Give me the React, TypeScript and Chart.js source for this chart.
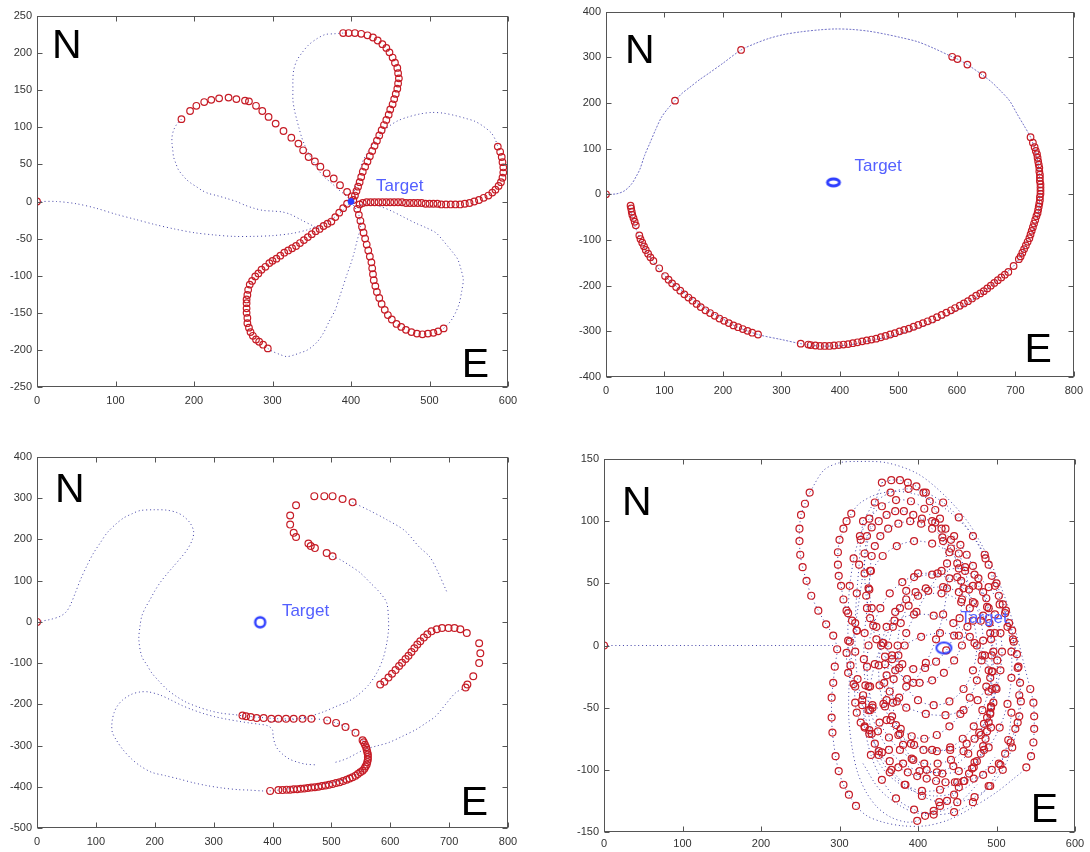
import React, { useEffect, useRef } from "react";
import { Chart, registerables } from "chart.js";

Chart.register(...registerables);

type Pt = [number, number];

const FONT = "'Liberation Sans', Arial, Helvetica, sans-serif";
const RED = "rgb(198,28,38)";
const BLUE_PATH = "rgba(34,34,150,0.85)";
const BLUE_SOFT = "rgba(80,80,185,0.8)";
const TARGET_BLUE = "rgb(46,62,255)";
const LABEL_BLUE = "rgb(84,96,255)";

/* ================= Panel 1 : rose / flower ================= */
const roseX = [0, 600, 100];
const roseY = [-250, 250, 50];
const roseTarget: Pt = [400, 0];

const roseApproach: Pt[] = [[0,0],[25,0],[50,-3],[75,-9],[100,-17],[125,-24],[150,-31],[175,-37],[200,-42],[225,-45],[250,-47],[275,-47],[300,-46],[325,-43],[345,-38],[362,-31],[378,-22],[392,-10],[400,0]];
const roseTopLeftSide: Pt[] = [[390,227],[378,226],[367,225],[356,219],[346,211],[338,201],[331,190],[327,177],[326,164],[326,150],[326,137],[328,123],[331,110],[334,98],[337,87],[341,76],[346,65],[352,54],[358,43],[366,33],[375,25],[383,17],[390,11],[396,5],[400,0]];
const roseLeftReturn: Pt[] = [[184,111],[178,104],[174,96],[172,87],[172,78],[173,69],[174,60],[177,51],[180,43],[185,36],[191,29],[197,24],[203,20],[210,15],[218,11],[229,8],[242,4],[254,0],[265,-5],[276,-9],[288,-12],[301,-13],[312,-14],[322,-17],[337,-25],[354,-34],[365,-38]];
const roseUpperRight: Pt[] = [[400,0],[404,13],[407,25],[411,40],[414,52],[421,66],[428,78],[438,90],[448,101],[460,109],[473,114],[488,118],[503,120],[518,119],[532,116],[546,112],[558,108],[569,101],[579,92],[584,83],[587,74]];
const roseLowerRightReturn: Pt[] = [[518,-171],[524,-165],[529,-158],[534,-148],[538,-137],[541,-121],[543,-105],[540,-91],[536,-78],[530,-69],[523,-60],[516,-51],[508,-42],[495,-35],[482,-29],[467,-21],[452,-13],[438,-7],[425,-4],[411,-4]];
const roseLowerLeftReturn: Pt[] = [[294,-198],[300,-202],[309,-206],[318,-209],[327,-207],[335,-204],[343,-201],[350,-196],[358,-188],[365,-177],[372,-162],[380,-146],[385,-130],[390,-114],[395,-98],[400,-83],[404,-69],[407,-56],[410,-44],[412,-33],[410,-18],[405,-8],[400,0]];

const roseStart: Pt[] = [[0,0]];
const roseTopPetal: Pt[] = [[403,2],[405,8],[407,14],[409,20],[411,26],[413,33],[415,40],[418,47],[421,54],[424,61],[427,68],[430,75],[433,82],[436,89],[439,96],[442,103],[445,110],[448,117],[450,124],[453,131],[455,138],[457,145],[459,152],[460,159],[461,166],[460,173],[459,180],[456,187],[453,194],[449,201],[445,207],[440,212],[434,217],[428,221],[421,224],[413,226],[405,227],[397,227],[390,227]];
const roseLeftPetal: Pt[] = [[401,7],[395,13],[386,22],[378,31],[369,38],[361,47],[354,54],[346,60],[339,69],[333,78],[324,86],[314,95],[304,105],[295,114],[287,122],[279,129],[270,135],[265,136],[254,138],[244,140],[232,139],[222,137],[213,134],[203,129],[195,122],[184,111]];
const roseRightLobe: Pt[] = [[587,74],[590,67],[592,60],[593,53],[594,46],[594,39],[593,32],[591,26],[588,21],[584,16],[580,12],[575,8],[569,5],[563,2],[557,0],[551,-2],[545,-3],[539,-4],[533,-4],[527,-4],[521,-4],[515,-4],[510,-3],[505,-3],[500,-3],[495,-3],[490,-2],[485,-2],[480,-2],[475,-2],[470,-2],[465,-1],[460,-1],[455,-1],[450,-1],[445,-1],[440,-1],[435,-1],[430,-1],[425,-1],[420,-1],[415,-2],[411,-4]];
const roseLowerRightPetal: Pt[] = [[408,-10],[410,-18],[412,-26],[414,-34],[416,-42],[418,-50],[420,-58],[422,-66],[424,-74],[426,-82],[427,-90],[428,-98],[429,-106],[431,-114],[433,-122],[436,-130],[439,-138],[443,-146],[447,-153],[452,-159],[458,-165],[464,-169],[470,-173],[477,-176],[484,-178],[491,-179],[498,-178],[505,-177],[511,-175],[518,-171]];
const roseLowerLeftPetal: Pt[] = [[395,-3],[390,-9],[385,-15],[380,-21],[375,-27],[370,-30],[365,-33],[360,-37],[355,-40],[350,-44],[345,-48],[340,-52],[335,-56],[330,-60],[325,-63],[320,-66],[315,-69],[310,-73],[305,-77],[300,-80],[296,-83],[291,-88],[286,-92],[282,-97],[278,-101],[274,-107],[271,-112],[269,-119],[268,-126],[267,-132],[267,-137],[267,-144],[267,-150],[268,-157],[268,-164],[270,-170],[272,-176],[275,-181],[279,-186],[283,-189],[288,-193],[294,-198]];

/* ================= Panel 2 : big orbit ================= */
const orbitX = [0, 800, 100];
const orbitY = [-400, 400, 100];
const orbitTarget: Pt = [389, 26];

const orbitPath: Pt[] = [[0,0],[18,1],[32,8],[44,23],[52,40],[58,55],[66,85],[75,112],[85,142],[95,169],[106,188],[118,205],[130,221],[143,234],[160,251],[177,266],[200,287],[231,316],[255,330],[278,341],[305,350],[335,356],[365,360],[392,362],[420,361],[450,357],[476,351],[505,343],[533,334],[560,320],[592,301],[601,296],[618,284],[644,261],[660,245],[675,226],[690,205],[703,176],[715,150],[726,125],[733,100],[738,75],[741,45],[742,20],[742,0],[740,-32],[736,-60],[728,-85],[720,-104],[709,-136],[697,-157],[675,-182],[646,-214],[618,-239],[590,-261],[561,-279],[533,-293],[505,-304],[476,-314],[448,-321],[420,-329],[392,-332],[363,-332],[333,-327],[300,-318],[260,-307],[222,-289],[194,-268],[165,-246],[137,-218],[109,-189],[89,-161],[69,-125],[58,-96],[49,-68],[44,-46],[41,-25]];

const orbitSparse: Pt[] = [[0,0],[118,205],[231,316],[592,301],[601,296],[618,284],[644,261],[697,-157],[333,-327],[260,-307]];
const orbitRight: Pt[] = [[726,125],[730,113],[733,103],[735,95],[737,88],[738,80],[739,72],[740,65],[741,58],[741,50],[742,43],[742,36],[742,29],[743,22],[743,15],[743,8],[743,1],[742,-6],[742,-13],[741,-20],[740,-27],[739,-34],[738,-41],[736,-48],[734,-56],[732,-64],[730,-72],[728,-80],[726,-88],[724,-96],[721,-104],[718,-112],[715,-120],[712,-128],[709,-136],[706,-142]];
const orbitBottom: Pt[] = [[688,-170],[682,-176],[676,-182],[670,-188],[664,-194],[658,-200],[652,-206],[646,-212],[640,-217],[633,-222],[626,-228],[619,-234],[612,-239],[605,-244],[597,-249],[590,-254],[582,-259],[574,-264],[566,-269],[558,-274],[550,-278],[542,-282],[534,-286],[526,-290],[518,-294],[510,-297],[502,-300],[494,-304],[486,-307],[478,-310],[470,-313],[462,-316],[454,-318],[446,-320],[438,-322],[430,-324],[422,-326],[414,-328],[406,-329],[398,-330],[390,-331],[382,-332],[374,-332],[366,-332],[358,-331],[350,-330],[346,-329]];
const orbitLeft: Pt[] = [[250,-303],[242,-299],[234,-295],[226,-291],[218,-287],[210,-282],[202,-277],[194,-272],[186,-266],[178,-260],[170,-254],[162,-247],[155,-240],[148,-233],[141,-226],[134,-219],[127,-211],[120,-203],[113,-195],[107,-187],[101,-179],[91,-162],[81,-146],[76,-138],[72,-130],[68,-122],[65,-114],[62,-106],[59,-98],[57,-90],[51,-68],[49,-60],[47,-52],[45,-45],[44,-38],[43,-31],[42,-25]];

/* ================= Panel 3 : coil ================= */
const coilX = [0, 800, 100];
const coilY = [-500, 400, 100];
const coilTarget: Pt = [379, -1];

const coilStartPath: Pt[] = [[0,0],[23,6],[40,14],[50,25],[57,42],[65,70],[74,103],[85,137],[96,167],[108,193],[119,216],[133,236],[147,252],[161,262],[175,270],[198,272],[221,271],[238,265],[249,256],[260,240],[266,220],[264,200],[255,175],[244,155],[232,135],[220,115],[209,95],[200,75],[192,54],[184,34],[178,14],[175,-10],[173,-43],[178,-84],[187,-105],[195,-124],[208,-145],[221,-164],[237,-181],[255,-196],[275,-207],[295,-216],[315,-222],[335,-225],[350,-228]];
const coilLowerLoop: Pt[] = [[350,-228],[410,-235],[466,-235],[493,-239],[524,-255],[553,-287],[563,-317],[560,-353],[543,-369],[516,-385],[483,-394],[449,-401],[416,-407],[395,-410],[382,-410],[360,-408],[342,-407],[315,-403],[288,-397],[265,-390],[241,-381],[218,-373],[195,-365],[176,-350],[161,-333],[146,-310],[134,-285],[128,-268],[127,-253],[128,-237],[131,-220],[136,-205],[145,-190],[160,-176],[175,-170],[190,-170],[210,-178],[228,-190],[245,-202],[262,-212],[282,-222],[302,-230],[322,-236],[342,-241],[360,-245],[376,-248],[392,-252],[400,-262],[401,-277],[404,-295],[409,-309],[418,-322],[429,-333],[442,-340],[456,-345],[476,-347]];
const coilRightArc: Pt[] = [[502,159],[515,151],[532,136],[549,119],[566,95],[583,70],[594,46],[597,6],[597,-20],[594,-52],[588,-88],[577,-124],[562,-155],[543,-180],[527,-194],[510,-204],[487,-218],[463,-229],[436,-237],[409,-241],[392,-243]];
const coilUpperRight: Pt[] = [[536,290],[565,270],[594,248],[625,221],[649,182],[667,158],[681,121],[696,73]];
const coilHookReturn: Pt[] = [[728,-159],[711,-172],[694,-200],[677,-229],[660,-246],[644,-261],[620,-278],[597,-293],[577,-301],[557,-309],[543,-319],[530,-329],[518,-336],[506,-341]];

const coilStart: Pt[] = [[0,0]];
const coilBottom: Pt[] = [[349,-227],[355,-229],[363,-231],[373,-233],[385,-233],[398,-235],[410,-235],[423,-235],[436,-235],[451,-235],[466,-235],[493,-239],[508,-245],[524,-255],[541,-269],[553,-287],[555,-292],[557,-298],[559,-304],[560,-310],[561,-316],[562,-322],[562,-328],[562,-334],[561,-340],[560,-346],[558,-351],[556,-356],[553,-361],[549,-365],[545,-369],[541,-373],[536,-377],[531,-380],[526,-383],[520,-386],[514,-389],[508,-391],[502,-393],[496,-395],[490,-397],[484,-398],[478,-400],[472,-401],[466,-402],[460,-403],[454,-404],[448,-405],[442,-406],[436,-406],[430,-407],[424,-407],[417,-408],[410,-408],[396,-410]];
const coilTop: Pt[] = [[536,290],[519,298],[502,305],[488,305],[471,305],[440,283],[430,258],[430,236],[436,216],[440,206],[461,190],[465,184],[472,179],[492,167],[502,159]];
const coilHook: Pt[] = [[583,-152],[590,-145],[597,-135],[603,-126],[609,-117],[615,-107],[620,-99],[626,-90],[631,-82],[636,-73],[641,-64],[646,-55],[651,-47],[657,-38],[663,-30],[670,-23],[679,-18],[688,-15],[699,-15],[709,-15],[719,-18],[730,-27],[751,-52],[753,-76],[751,-100],[741,-132],[731,-152],[728,-159]];

/* ================= Panel 4 : swarm of loops ================= */
const swarmX = [0, 600, 100];
const swarmY = [-150, 150, 50];
const swarmTarget: Pt = [433, -2];

const swarmApproach: Pt[] = [[0,0],[60,0],[120,0],[180,0],[240,0],[292,0]];
const swarmLeftArc: Pt[] = [[262,123],[256,114],[251,105],[249,94],[249,84],[250,73],[253,63],[258,52],[264,40],[273,28],[283,17],[292,8],[297,-3],[294,-17],[292,-30],[290,-42],[290,-58],[291,-70],[295,-89],[299,-101],[305,-112],[312,-120],[321,-129]];
const swarmOuterBottom: Pt[] = [[335,-137],[355,-142],[380,-145],[410,-145],[440,-140],[470,-130],[500,-118],[522,-107]];
const swarmOuterRight: Pt[] = [[538,-98],[544,-89],[547,-78],[548,-67],[548,-57],[547,-46],[543,-35]];
const swarmOuterTop: Pt[] = [[535,-15],[525,10],[510,40],[490,70],[465,98],[435,120],[400,138],[360,147],[322,148],[300,147],[280,141],[262,123]];
const swarmLoopB: Pt[] = [[354,131],[366,133],[377,133],[387,131],[398,128],[407,123],[415,116],[422,109],[428,102],[435,94],[446,88],[454,81],[462,73],[470,64],[477,54],[483,43],[488,31],[491,18],[493,5],[494,-8],[494,-21],[494,-35],[493,-49],[492,-55],[490,-62],[488,-69],[486,-75],[483,-81],[480,-87],[475,-93],[471,-98],[465,-103],[458,-109],[452,-114],[446,-120],[437,-125],[428,-129],[420,-133],[409,-137],[399,-141]];
const swarmLoopBReturn: Pt[] = [[385,-142],[365,-138],[348,-130],[334,-118],[323,-102],[316,-82],[312,-60],[312,-35],[315,-10],[320,15],[327,45],[335,80],[342,105],[348,120],[354,131]];
const swarmLoopCLeft: Pt[] = [[322,12],[316,20],[309,28],[305,37],[302,48],[299,56],[298,65],[298,75],[300,85],[305,94],[309,100],[315,106]];
const swarmLoopCTop: Pt[] = [[325,114],[345,121],[370,124],[395,122],[420,116],[445,105],[468,90]];
const swarmLoopCRight: Pt[] = [[485,73],[490,65],[494,56],[498,48],[503,40],[508,33],[511,26],[516,18],[520,12],[522,3],[526,-7],[528,-17],[530,-30],[531,-45],[529,-57],[524,-67],[518,-78],[511,-87],[503,-95],[494,-100],[483,-104],[471,-107],[459,-109],[447,-110],[435,-110],[423,-109],[411,-107],[399,-105],[387,-102],[375,-98],[364,-93],[354,-86],[345,-79],[338,-71],[332,-66],[327,-62],[322,-54],[320,-46],[318,-31],[311,-22],[309,-6],[313,3],[322,12]];
const swarmLoopD: Pt[] = [[335,88],[341,95],[350,100],[360,105],[371,108],[382,108],[394,105],[405,102],[418,100],[430,94],[442,85],[452,74],[460,60],[465,45],[466,30],[463,15],[456,0],[446,-12],[433,-22],[418,-28],[402,-30],[386,-27],[371,-20],[358,-9],[347,5],[339,22],[334,40],[332,58],[332,74]];
const swarmLoopE: Pt[] = [[345,80],[352,88],[362,94],[375,98],[390,100],[404,98],[418,94],[431,87],[442,78],[450,66],[455,52],[456,37],[453,22],[446,8],[436,-4],[423,-13],[409,-18],[394,-19],[380,-15],[367,-8],[356,2],[347,15],[341,30],[338,45],[339,60],[341,72]];
const swarmLoopF: Pt[] = [[400,58],[425,58],[450,55],[470,48],[487,38],[498,25],[505,10],[507,-5],[505,-20],[500,-35],[493,-50],[484,-63],[472,-75],[458,-85],[442,-92],[425,-95],[408,-95],[392,-91],[377,-84],[363,-74],[351,-62],[342,-48],[337,-33],[335,-17],[337,0],[343,16],[352,30],[364,42],[380,51]];
const swarmLoopG: Pt[] = [[410,46],[432,47],[452,43],[470,35],[483,24],[492,10],[496,-5],[495,-21],[490,-37],[482,-52],[471,-65],[457,-75],[441,-82],[424,-85],[407,-84],[391,-79],[377,-71],[365,-60],[356,-47],[351,-32],[350,-16],[353,0],[360,15],[371,27],[385,37],[397,43]];
const swarmLoopH: Pt[] = [[395,55],[418,57],[440,54],[458,46],[472,34],[480,20],[483,4],[481,-12],[475,-28],[466,-42],[454,-55],[440,-65],[424,-72],[408,-75],[392,-73],[378,-67],[367,-57],[360,-44],[357,-30],[358,-15],[362,0],[368,15],[377,30],[385,44]];
const swarmLoopI: Pt[] = [[400,40],[430,42],[455,35],[470,20],[475,0],[470,-20],[458,-35],[440,-45],[420,-48],[400,-44],[385,-33],[376,-18],[374,0],[378,18],[388,32]];
const swarmLoopJ: Pt[] = [[330,100],[345,115],[365,123],[388,126],[410,123],[432,115],[452,103],[470,88],[486,70],[500,50],[512,28],[521,5],[527,-18],[529,-40],[527,-62],[520,-82],[508,-100],[492,-113],[472,-122],[450,-126],[427,-126],[405,-121],[384,-112],[366,-100],[350,-85],[338,-68],[329,-48],[323,-27],[320,-5],[320,18],[322,42],[325,65],[327,85]];
const swarmLoopK: Pt[] = [[340,60],[355,72],[373,80],[395,84],[418,82],[440,75],[460,63],[477,48],[490,30],[498,10],[501,-12],[499,-34],[492,-54],[480,-72],[464,-87],[445,-97],[424,-102],[402,-101],[381,-95],[363,-84],[349,-69],[339,-52],[333,-32],[331,-11],[332,10],[335,30],[337,46]];
const swarmLoopL: Pt[] = [[370,20],[395,25],[420,24],[445,18],[466,7],[482,-8],[492,-26],[496,-46],[493,-66],[484,-84],[469,-99],[450,-110],[428,-116],[405,-117],[383,-112],[364,-102],[350,-88],[341,-71],[337,-52],[339,-33],[345,-15],[355,2]];
const swarmLoopM: Pt[] = [[318,70],[326,88],[338,102],[354,112],[372,117],[391,116],[408,110],[422,99],[432,84],[437,66],[437,46],[432,25],[423,5],[410,-14],[394,-30],[376,-42],[358,-49],[342,-50],[329,-44],[320,-33],[314,-16],[311,4],[311,26],[313,48]];
const swarmLoopN: Pt[] = [[430,60],[452,62],[472,57],[490,47],[504,33],[514,15],[519,-5],[519,-26],[514,-47],[504,-66],[490,-82],[472,-94],[452,-101],[431,-103],[411,-100],[394,-92],[381,-80],[372,-64],[368,-46],[369,-27],[375,-8],[385,10],[398,27],[413,44]];
const swarmLoopO: Pt[] = [[385,-50],[410,-55],[435,-56],[458,-52],[476,-44],[487,-33],[490,-20],[485,-8],[472,2],[452,8],[428,10],[404,7],[383,0],[367,-11],[360,-24],[364,-37],[373,-45]];
const swarmArcP: Pt[] = [[360,-60],[375,-72],[395,-80],[418,-84],[441,-84],[462,-79],[478,-70],[488,-58]];
const swarmArcQ: Pt[] = [[330,-40],[332,-65],[340,-88],[354,-108],[372,-123],[395,-132],[420,-136],[446,-134],[470,-126],[490,-113],[505,-96],[515,-76],[519,-54]];
const swarmLowArc1: Pt[] = [[330,-95],[350,-115],[375,-128],[400,-135],[430,-133],[455,-125],[475,-112]];
const swarmLowArc2: Pt[] = [[340,-85],[362,-104],[390,-116],[420,-121],[450,-118],[478,-106],[498,-90]];

const closeLoop = (p: Pt[]): Pt[] => [...p, p[0]];

/* ================= panel configuration ================= */
type Cfg = {
  box: [number, number, number, number];
  yW: number; xH: number; padTop: number; padRight: number; xPad: number;
  xr: number[]; yr: number[];
  paths: Pt[][]; circles: Pt[]; radius: number;
  lineColor: string; dash: number[];
  target: Pt; marker: string; label: Pt;
  nPos: [number, number]; ePos: [number, number];
};

const PANELS: Cfg[] = [
  {
    box: [0, 0, 530, 410], yW: 37, xH: 23, padTop: 16, padRight: 22, xPad: 7,
    xr: roseX, yr: roseY,
    paths: [roseApproach, roseTopLeftSide, roseLeftReturn, roseUpperRight, roseLowerRightReturn, roseLowerLeftReturn],
    circles: [...roseStart, ...roseTopPetal, ...roseLeftPetal, ...roseRightLobe, ...roseLowerRightPetal, ...roseLowerLeftPetal],
    radius: 3.3, lineColor: BLUE_PATH, dash: [1, 2.8],
    target: roseTarget, marker: "dot", label: [432, 20],
    nPos: [15, 42], ePos: [19, 10],
  },
  {
    box: [566, 0, 524, 400], yW: 40, xH: 23, padTop: 6, padRight: 13, xPad: 7,
    xr: orbitX, yr: orbitY,
    paths: [orbitPath],
    circles: [...orbitSparse, ...orbitRight, ...orbitBottom, ...orbitLeft],
    radius: 3.3, lineColor: BLUE_SOFT, dash: [2, 1.5],
    target: orbitTarget, marker: "thickEllipse", label: [425, 61],
    nPos: [19, 51], ePos: [22, 15],
  },
  {
    box: [0, 440, 530, 412], yW: 37, xH: 24, padTop: 17, padRight: 22, xPad: 7,
    xr: coilX, yr: coilY,
    paths: [coilStartPath, coilLowerLoop, coilRightArc, coilUpperRight, coilHookReturn],
    circles: [...coilStart, ...coilBottom, ...coilTop, ...coilHook],
    radius: 3.4, lineColor: BLUE_PATH, dash: [1, 2.8],
    target: coilTarget, marker: "ring", label: [416, 26],
    nPos: [18, 45], ePos: [20, 13],
  },
  {
    box: [566, 440, 524, 412], yW: 38, xH: 20, padTop: 19, padRight: 15, xPad: 5,
    xr: swarmX, yr: swarmY,
    paths: [
      swarmApproach,
      [...swarmLeftArc, ...swarmOuterBottom, ...swarmOuterRight, ...swarmOuterTop],
      [...swarmLoopB, ...swarmLoopBReturn],
      [...swarmLoopCLeft, ...swarmLoopCTop, ...swarmLoopCRight],
      closeLoop(swarmLoopD), closeLoop(swarmLoopE), closeLoop(swarmLoopF),
      closeLoop(swarmLoopG), closeLoop(swarmLoopH), closeLoop(swarmLoopI),
      closeLoop(swarmLoopJ), closeLoop(swarmLoopK), closeLoop(swarmLoopL),
      closeLoop(swarmLoopM), closeLoop(swarmLoopN), closeLoop(swarmLoopO),
      swarmArcP, swarmArcQ, swarmLowArc1, swarmLowArc2,
    ],
    circles: [[0, 0], ...swarmLeftArc, ...swarmOuterRight, ...swarmLoopB, ...swarmLoopCLeft, ...swarmLoopCRight,
      ...swarmLoopD, ...swarmLoopE, ...swarmLoopF, ...swarmLoopG, ...swarmLoopH, ...swarmLoopI,
      ...swarmLoopJ, ...swarmLoopK, ...swarmLoopL, ...swarmLoopM, ...swarmLoopN, ...swarmLoopO,
      ...swarmArcP, ...swarmArcQ],
    radius: 3.5, lineColor: BLUE_PATH, dash: [1, 2.8],
    target: swarmTarget, marker: "ellipse", label: [454, 22],
    nPos: [18, 56], ePos: [17, 10],
  },
];

function markerImage(kind: string): HTMLCanvasElement {
  const dims: Record<string, [number, number, number]> = {
    thickEllipse: [12, 7, 3],
    ring: [10, 10, 2.4],
    ellipse: [15, 11, 2],
  };
  const [w, h, lw] = dims[kind];
  const c = document.createElement("canvas");
  c.width = Math.ceil(w + lw * 2 + 2);
  c.height = Math.ceil(h + lw * 2 + 2);
  const g = c.getContext("2d")!;
  g.strokeStyle = TARGET_BLUE;
  g.lineWidth = lw;
  g.beginPath();
  g.ellipse(c.width / 2, c.height / 2, w / 2, h / 2, 0, 0, Math.PI * 2);
  g.stroke();
  return c;
}

function framePlugin(cfg: Cfg) {
  return {
    id: "frameDecor",
    afterDatasetsDraw(chart: any) {
      const { ctx, chartArea: a } = chart;
      const xs = chart.scales.x;
      const ys = chart.scales.y;
      ctx.save();
      ctx.fillStyle = LABEL_BLUE;
      ctx.font = `17px ${FONT}`;
      ctx.textBaseline = "middle";
      ctx.textAlign = "left";
      ctx.fillText("Target", xs.getPixelForValue(cfg.label[0]), ys.getPixelForValue(cfg.label[1]));

      ctx.fillStyle = "#000";
      ctx.font = `41px ${FONT}`;
      ctx.textBaseline = "alphabetic";
      ctx.textAlign = "left";
      ctx.fillText("N", a.left + cfg.nPos[0], a.top + cfg.nPos[1]);
      ctx.textAlign = "right";
      ctx.fillText("E", a.right - cfg.ePos[0], a.bottom - cfg.ePos[1]);

      const L = Math.round(a.left) + 0.5;
      const R = Math.round(a.right) - 0.5;
      const T = Math.round(a.top) + 0.5;
      const B = Math.round(a.bottom) - 0.5;
      ctx.strokeStyle = "#555";
      ctx.lineWidth = 1;
      ctx.strokeRect(L, T, R - L, B - T);
      ctx.beginPath();
      xs.ticks.forEach((t: any) => {
        const p = Math.round(xs.getPixelForValue(t.value)) + 0.5;
        ctx.moveTo(p, B); ctx.lineTo(p, B - 5);
        ctx.moveTo(p, T); ctx.lineTo(p, T + 5);
      });
      ys.ticks.forEach((t: any) => {
        const p = Math.round(ys.getPixelForValue(t.value)) + 0.5;
        ctx.moveTo(L, p); ctx.lineTo(L + 5, p);
        ctx.moveTo(R, p); ctx.lineTo(R - 5, p);
      });
      ctx.stroke();
      ctx.restore();
    },
  };
}

function Panel({ cfg }: { cfg: Cfg }) {
  const ref = useRef<HTMLCanvasElement | null>(null);
  useEffect(() => {
    const canvas = ref.current;
    if (!canvas) return;
    const toXY = (pts: Pt[]) => pts.map(([x, y]) => ({ x, y }));
    const datasets: any[] = [];
    if (cfg.marker === "dot") {
      datasets.push({
        data: toXY([cfg.target]), pointStyle: "circle", pointRadius: 3,
        backgroundColor: TARGET_BLUE, borderColor: TARGET_BLUE, borderWidth: 1, order: 0,
      });
    } else {
      datasets.push({
        data: toXY([cfg.target]), pointStyle: markerImage(cfg.marker), pointRadius: 6, order: 0,
      });
    }
    datasets.push({
      data: toXY(cfg.circles), pointStyle: "circle", pointRadius: cfg.radius,
      borderColor: RED, backgroundColor: "rgba(0,0,0,0)", borderWidth: 1.2, showLine: false, order: 1,
    });
    cfg.paths.forEach((p) => {
      datasets.push({
        data: toXY(p), showLine: true, borderColor: cfg.lineColor, borderWidth: 1,
        borderDash: cfg.dash, borderCapStyle: "butt", pointRadius: 0, tension: 0.3, order: 2,
      });
    });
    const tickFont = { family: FONT, size: 11 };
    const chart = new Chart(canvas, {
      type: "scatter",
      data: { datasets },
      options: {
        animation: false,
        responsive: true,
        maintainAspectRatio: false,
        events: [],
        layout: { padding: { left: 0, top: cfg.padTop, right: cfg.padRight, bottom: 0 } },
        plugins: { legend: { display: false }, tooltip: { enabled: false } },
        scales: {
          x: {
            type: "linear", position: "bottom", min: cfg.xr[0], max: cfg.xr[1],
            ticks: { stepSize: cfg.xr[2], color: "#333", font: tickFont, padding: cfg.xPad, maxRotation: 0, autoSkip: false },
            grid: { display: false, drawTicks: false },
            border: { display: false },
            afterFit: (s: any) => { s.height = cfg.xH; },
          },
          y: {
            type: "linear", position: "left", min: cfg.yr[0], max: cfg.yr[1],
            ticks: { stepSize: cfg.yr[2], color: "#333", font: tickFont, padding: 5, autoSkip: false },
            grid: { display: false, drawTicks: false },
            border: { display: false },
            afterFit: (s: any) => { s.width = cfg.yW; },
          },
        },
      } as any,
      plugins: [framePlugin(cfg)],
    });
    return () => chart.destroy();
  }, [cfg]);
  const [left, top, width, height] = cfg.box;
  return (
    <div style={{ position: "absolute", left, top, width, height }}>
      <canvas ref={ref} />
    </div>
  );
}

export default function App() {
  return (
    <div style={{ position: "absolute", left: 0, top: 0, width: 1090, height: 852, background: "#fff" }}>
      {PANELS.map((cfg, i) => (
        <Panel key={i} cfg={cfg} />
      ))}
    </div>
  );
}
